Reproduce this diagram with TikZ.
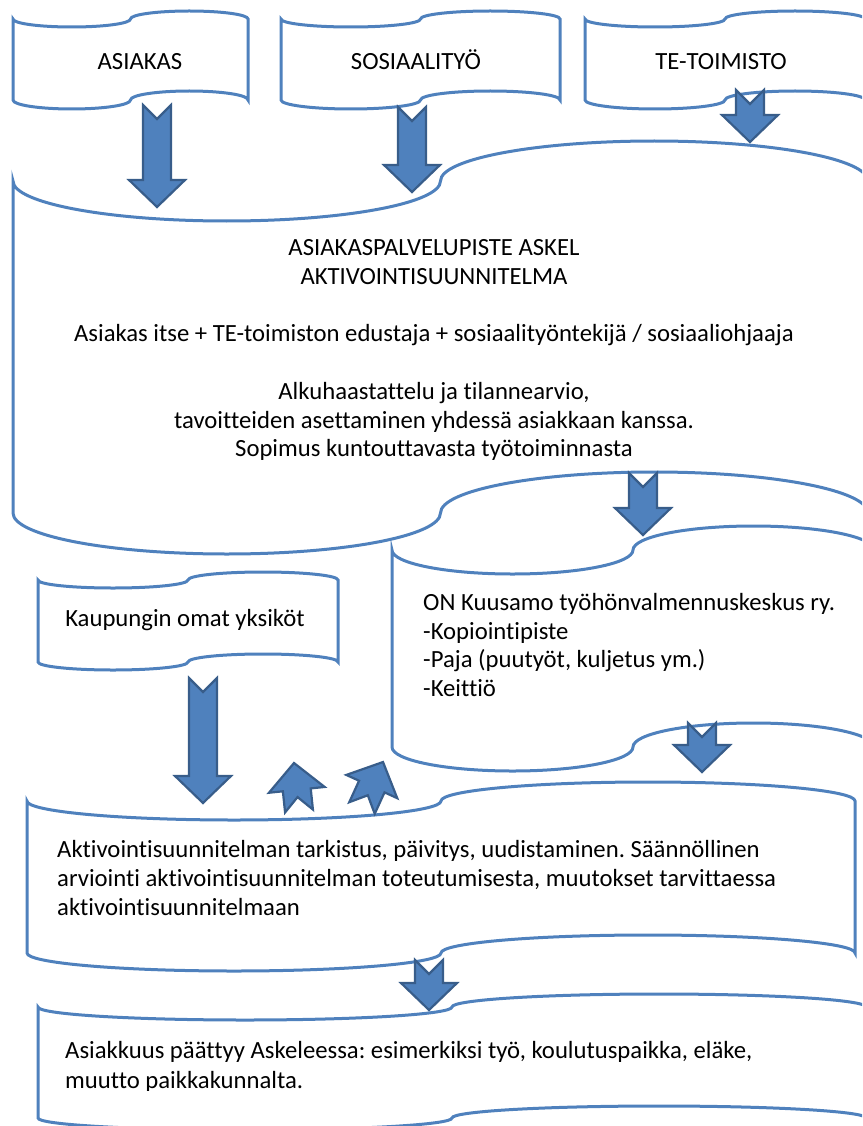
\documentclass[tikz,border=0pt]{standalone}
\usepackage{fontspec}
\setmainfont[Ligatures=NoCommon]{Carlito}
\frenchspacing
\usepackage{tikz}
\usetikzlibrary{calc}
\definecolor{tapeblue}{HTML}{4F81BD}
\definecolor{arrowfill}{HTML}{4F81BD}
\definecolor{arrowline}{HTML}{385D8A}
\tikzstyle{tapeline}=[draw=tapeblue, line width=3pt, fill=white]
\tikzstyle{arrowbody}=[fill=arrowfill, draw=arrowline, line width=2.2pt]
\tikzstyle{txt}=[inner sep=0pt, font=\fontsize{24.7}{28.8}\selectfont]
% left x, right x, top y, top bend, bottom y, bottom bend
\newcommand{\tapebox}[6]{%
  \pgfmathsetmacro\tq{(#2-#1)/4}
  \pgfmathsetmacro\tc{0.5523*\tq}
  \pgfmathsetmacro\tkt{0.5523*#4}
  \pgfmathsetmacro\tkb{0.5523*#6}
  \draw[tapeline] (#1,#3)
    .. controls (#1,{#3+\tkt}) and ({#1+\tq-\tc},{#3+#4}) .. ({#1+\tq},{#3+#4})
    .. controls ({#1+\tq+\tc},{#3+#4}) and ({#1+2*\tq},{#3+\tkt}) .. ({#1+2*\tq},#3)
    .. controls ({#1+2*\tq},{#3-\tkt}) and ({#1+3*\tq-\tc},{#3-#4}) .. ({#1+3*\tq},{#3-#4})
    .. controls ({#1+3*\tq+\tc},{#3-#4}) and (#2,{#3-\tkt}) .. (#2,#3)
    -- (#2,#5)
    .. controls (#2,{#5-\tkb}) and ({#1+3*\tq+\tc},{#5-#6}) .. ({#1+3*\tq},{#5-#6})
    .. controls ({#1+3*\tq-\tc},{#5-#6}) and ({#1+2*\tq},{#5-\tkb}) .. ({#1+2*\tq},#5)
    .. controls ({#1+2*\tq},{#5+\tkb}) and ({#1+\tq+\tc},{#5+#6}) .. ({#1+\tq},{#5+#6})
    .. controls ({#1+\tq-\tc},{#5+#6}) and (#1,{#5+\tkb}) .. (#1,#5)
    -- cycle;
}
% notched block arrow from tail to tip
\newcommand{\blockarrow}[2]{%
  \coordinate (hb) at ($(#2)!27pt!(#1)$);
  \draw[arrowbody] ($(#1)!14pt!90:(#2)$) -- ($(#1)!14pt!(#2)$)
    -- ($(#1)!14pt!-90:(#2)$) -- ($(hb)!14pt!-90:(#2)$)
    -- ($(hb)!28pt!-90:(#2)$) -- (#2) -- ($(hb)!28pt!90:(#2)$)
    -- ($(hb)!14pt!90:(#2)$) -- cycle;
}

\begin{document}
\begin{tikzpicture}[x=1pt, y=-1pt]
\useasboundingbox (0,0) rectangle (862,1126);
\clip (0,0) rectangle (862,1126);

\tapebox{13}{248}{19}{8}{100}{9}
\tapebox{281}{560}{19}{8}{100}{9}
\tapebox{585}{865}{19}{8}{100}{9}
\tapebox{13}{868}{181}{40}{513}{41}
\tapebox{38}{338}{580}{8}{662}{8}
\tapebox{392}{874}{550}{24}{747}{24}
\tapebox{27}{855}{801}{19}{953}{18}
\tapebox{38}{866}{1007}{13}{1118}{12}

\node[txt, anchor=base] (asiakas) at (140,70) {ASIAKAS};
\node[txt, anchor=base] (sosiaali) at (416,70) {SOSIAALITYÖ};
\node[txt, anchor=base] (tetoimisto) at (721,70) {TE-TOIMISTO};
\node[txt, align=center] (askel) at (434,350) {ASIAKASPALVELUPISTE ASKEL\\AKTIVOINTISUUNNITELMA\\[28.8pt]Asiakas itse + TE-toimiston edustaja + sosiaalityöntekijä / sosiaaliohjaaja\\[28.8pt]Alkuhaastattelu ja tilannearvio,\\tavoitteiden asettaminen yhdessä asiakkaan kanssa.\\Sopimus kuntouttavasta työtoiminnasta};
\node[txt, anchor=base] (kaupunki) at (185,626) {Kaupungin omat yksiköt};
\node[txt, align=left, anchor=west] (onkuusamo) at (423,645) {ON Kuusamo työhönvalmennuskeskus ry.\\-Kopiointipiste\\-Paja (puutyöt, kuljetus ym.)\\-Keittiö};
\node[txt, align=left, anchor=west] (tarkistus) at (57,878) {Aktivointisuunnitelman tarkistus, päivitys, uudistaminen. Säännöllinen\\arviointi aktivointisuunnitelman toteutumisesta, muutokset tarvittaessa\\aktivointisuunnitelmaan};
\begin{scope}
\clip (0,0) rectangle (862,1090);
\node[txt, align=left, anchor=west, font=\fontsize{24.7}{30}\selectfont] (paattyy) at (65,1067) {Asiakkuus päättyy Askeleessa: esimerkiksi työ, koulutuspaikka, eläke,\\muutto paikkakunnalta.};
\end{scope}

\coordinate (a1t) at (157,105);
\coordinate (a1h) at (157,207);
\coordinate (a2t) at (412,107);
\coordinate (a2h) at (412,192);
\coordinate (a3t) at (750,90);
\coordinate (a3h) at (750,142);
\coordinate (a4t) at (643,473);
\coordinate (a4h) at (643,535);
\coordinate (a5t) at (203,678);
\coordinate (a5h) at (203,803);
\coordinate (a6t) at (702,723);
\coordinate (a6h) at (702,772);
\coordinate (a7t) at (429,960);
\coordinate (a7h) at (429,1010);
\coordinate (u1t) at (299,811);
\coordinate (u1h) at (294,763);
\coordinate (u2t) at (362,808);
\coordinate (u2h) at (383,762);
\blockarrow{a1t}{a1h}
\blockarrow{a2t}{a2h}
\blockarrow{a3t}{a3h}
\blockarrow{a4t}{a4h}
\blockarrow{a5t}{a5h}
\blockarrow{a6t}{a6h}
\blockarrow{a7t}{a7h}
\blockarrow{u1t}{u1h}
\blockarrow{u2t}{u2h}
\end{tikzpicture}
\end{document}
